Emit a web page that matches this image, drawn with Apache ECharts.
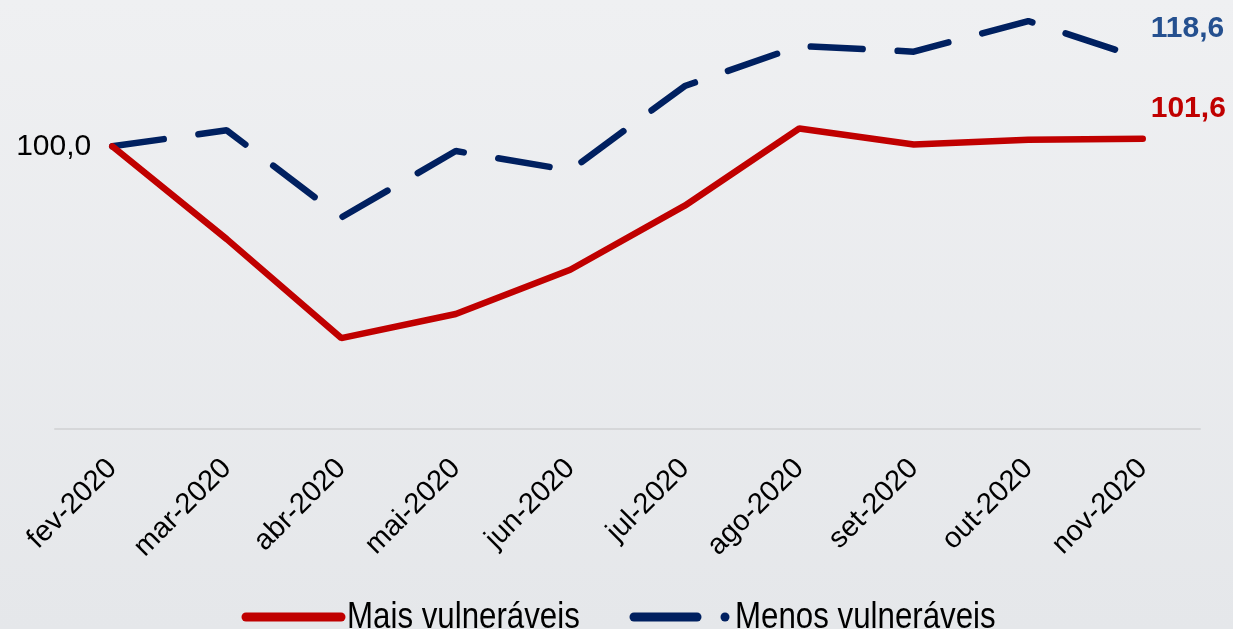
<!DOCTYPE html>
<html>
<head>
<meta charset="utf-8">
<script src="https://cdn.jsdelivr.net/npm/echarts@6/dist/echarts.min.js"></script>
<style>
  html, body { margin: 0; padding: 0; }
  #chart { width: 1233px; height: 629px; }
</style>
</head>
<body>
<div id="chart"></div>
<script>
const months = ["fev-2020", "mar-2020", "abr-2020", "mai-2020", "jun-2020",
  "jul-2020", "ago-2020", "set-2020", "out-2020", "nov-2020"];
const maisVulneraveis = [100.0, 80.3, 59.3, 64.4, 73.8, 87.4, 103.8, 100.4, 101.4, 101.6];
const menosVulneraveis = [100.0, 103.4, 84.9, 99.0, 94.9, 112.8, 121.3, 120.1, 126.6, 118.6];
const legendNames = ["Mais vulneráveis", "Menos vulneráveis"];

const RED = "#c00000";
const NAVY = "#002060";
const fmt = (v) => v.toFixed(1).replace(".", ",");

const chart = echarts.init(document.getElementById("chart"));

// first point carries the "100,0" label on the left
const redData = maisVulneraveis.map((v, i) => {
  if (i !== 0) return v;
  return {
    value: v,
    symbol: "circle",
    symbolSize: 2,
    itemStyle: { color: RED },
    label: {
      show: true,
      position: "left",
      distance: 20,
      formatter: (p) => fmt(p.value),
      color: "#000",
      fontSize: 30,
      fontFamily: "Liberation Sans",
    },
  };
});

chart.setOption({
  backgroundColor: {
    type: "linear", x: 0, y: 0, x2: 0, y2: 1,
    colorStops: [
      { offset: 0, color: "#eff0f2" },
      { offset: 1, color: "#e5e7ea" },
    ],
  },
  animation: false,
  grid: { left: 55, right: 33, top: 5, bottom: 200 },
  xAxis: {
    type: "category",
    data: months,
    boundaryGap: true,
    axisLine: { lineStyle: { color: "#d6d7d9", width: 2 } },
    axisTick: { show: false },
    axisLabel: {
      interval: 0,
      rotate: 45,
      margin: 35,
      color: "#000",
      fontSize: 29,
      fontFamily: "Liberation Sans",
    },
  },
  yAxis: {
    type: "value",
    min: 40,
    max: 130,
    show: false,
  },
  series: [
    {
      name: legendNames[0],
      type: "line",
      data: redData,
      symbol: "none",
      lineStyle: { color: RED, width: 6.5, cap: "round" },
      itemStyle: { color: RED },
      endLabel: {
        show: true,
        formatter: (p) => fmt(p.value),
        distance: 5,
        offset: [3, -30],
        color: RED,
        fontSize: 30,
        fontWeight: "bold",
        fontFamily: "Liberation Sans",
      },
      z: 3,
    },
    {
      name: legendNames[1],
      type: "line",
      data: menosVulneraveis,
      symbol: "none",
      lineStyle: { color: NAVY, width: 6.5, type: [52, 35], cap: "round" },
      itemStyle: { color: NAVY },
      endLabel: {
        show: true,
        formatter: (p) => fmt(p.value),
        distance: 5,
        offset: [3, -30],
        color: "#25508f",
        fontSize: 30,
        fontWeight: "bold",
        fontFamily: "Liberation Sans",
      },
      z: 2,
    },
  ],
  // legend drawn by hand: condensed text, dashed icon with a dot
  graphic: [
    { type: "line", shape: { x1: 246, y1: 617, x2: 341, y2: 617 },
      style: { stroke: RED, lineWidth: 9, lineCap: "round" } },
    { type: "text", x: 347, y: 618, scaleX: 0.845,
      style: { text: legendNames[0], fill: "#000", fontSize: 37,
        fontFamily: "Liberation Sans", align: "left", verticalAlign: "middle" } },
    { type: "line", shape: { x1: 634, y1: 617, x2: 697, y2: 617 },
      style: { stroke: NAVY, lineWidth: 9, lineCap: "round" } },
    { type: "circle", shape: { cx: 725, cy: 617, r: 4.5 },
      style: { fill: NAVY } },
    { type: "text", x: 735, y: 618, scaleX: 0.845,
      style: { text: legendNames[1], fill: "#000", fontSize: 37,
        fontFamily: "Liberation Sans", align: "left", verticalAlign: "middle" } },
  ],
});
</script>
</body>
</html>
